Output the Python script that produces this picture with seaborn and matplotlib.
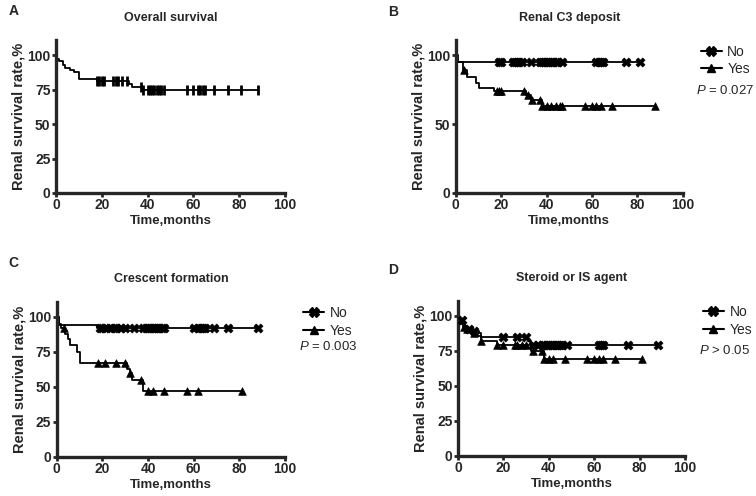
import numpy as np
import pandas as pd
import seaborn as sns
import matplotlib.pyplot as plt
from matplotlib.lines import Line2D

# Kaplan-Meier steps (time, survival %) and censor times
a_times = [0, 0.5, 1.5, 3, 4, 6, 8, 10, 18, 32, 33, 38]
a_surv = [100, 97.5, 96, 93, 91, 89, 88, 83, 81.5, 79, 77, 74.6]
a_cens = [18, 19, 20, 21, 25, 26, 27, 29, 31, 37, 38, 40, 41, 42, 43, 44, 45, 46, 47,
          57, 60, 62, 63, 64, 65, 69, 75, 81, 88]

b_no_times = [0, 1]
b_no_surv = [100, 95.5]
b_no_cens = [19, 20, 25, 26, 27, 28, 29, 33, 37, 38, 39, 40, 41, 42, 43, 44, 45, 47,
             62, 63, 64, 65, 75, 81]
b_yes_times = [0, 0.5, 3, 5, 9, 10, 17, 31, 33, 38]
b_yes_surv = [100, 95, 89, 84.5, 80, 76, 74, 71, 67.5, 63]
b_yes_cens = [3.5, 18, 19, 20, 30, 32, 33.5, 37, 38, 40, 42, 44, 46, 47, 57, 60, 62, 64, 69, 88]

c_no_times = [0, 1, 17.5]
c_no_surv = [100, 94.5, 91.8]
c_no_cens = [19, 20, 21, 24, 25, 26, 28, 30, 34, 38, 39, 40, 41, 42, 43, 44, 45, 46, 47,
             60, 62, 63, 64, 65, 69, 75, 88]
c_yes_times = [0, 1, 2, 3.5, 5, 6, 9, 10, 31, 32, 33, 38]
c_yes_surv = [100, 95, 92, 87.5, 84, 80, 75, 67, 63, 60, 55, 47]
c_yes_cens = [3, 18, 21, 26, 30, 32, 37, 40, 42, 47, 57, 62, 81]

d_no_times = [0, 0.5, 1, 2, 3, 4, 6, 9, 10, 31, 32]
d_no_surv = [100, 98, 97, 95, 93, 91, 89.5, 88, 84.7, 82, 79.5]
d_no_cens = [1.5, 5, 7, 20, 26, 30, 33, 35, 37, 38, 39, 40, 41, 42, 43, 44, 45, 46, 48,
             62, 63, 64, 75, 88]
d_yes_times = [0, 0.5, 1, 2, 3, 5, 6, 8, 10, 17, 32, 38]
d_yes_surv = [100, 96, 94, 92, 91, 89, 88, 86, 82, 79, 75, 69.4]
d_yes_cens = [2.5, 4, 7, 10, 17, 20, 25, 26, 28, 30, 33, 37, 38, 40, 42, 47, 57, 60, 62, 64,
              69, 81]

panels = [
    ('A', 'Overall survival', [(a_times, a_surv, a_cens, '|')], None, [0, 25, 50, 75, 100]),
    ('B', 'Renal C3 deposit', [(b_no_times, b_no_surv, b_no_cens, 'X'),
                               (b_yes_times, b_yes_surv, b_yes_cens, '^')], '= 0.027', [0, 50, 100]),
    ('C', 'Crescent formation', [(c_no_times, c_no_surv, c_no_cens, 'X'),
                                 (c_yes_times, c_yes_surv, c_yes_cens, '^')], '= 0.003', [0, 25, 50, 75, 100]),
    ('D', 'Steroid or IS agent', [(d_no_times, d_no_surv, d_no_cens, 'X'),
                                  (d_yes_times, d_yes_surv, d_yes_cens, '^')], '> 0.05', [0, 25, 50, 75, 100]),
]

# axes boxes in figure fractions
boxes = [(0.074, 0.611, 0.303, 0.308), (0.603, 0.611, 0.300, 0.308),
         (0.075, 0.079, 0.302, 0.313), (0.606, 0.081, 0.300, 0.313)]
letter_pos = [(0.011, 0.978), (0.513, 0.975), (0.011, 0.470), (0.513, 0.455)]
pval_y = {'B': 0.67, 'C': 0.71, 'D': 0.68}

sns.set_style('ticks')
plt.rcParams['font.family'] = ['Liberation Sans', 'DejaVu Sans']
plt.rcParams['mathtext.fontset'] = 'custom'
plt.rcParams['mathtext.it'] = 'Liberation Sans:italic'
plt.rcParams['mathtext.rm'] = 'Liberation Sans'

fig = plt.figure(figsize=(7.56, 4.96), dpi=100)

for (letter, title, curves, pval, yticks), box, lpos in zip(panels, boxes, letter_pos):
    ax = fig.add_axes(box)
    handles = []
    for times, surv, cens, mk in curves:
        t = list(times) + [max(cens)]
        s = list(surv) + [surv[-1]]
        df = pd.DataFrame({'time': t, 'surv': s})
        sns.lineplot(data=df, x='time', y='surv', drawstyle='steps-post', estimator=None,
                     sort=False, color='black', lw=1.3, ax=ax)
        idx = np.searchsorted(times, cens, side='right') - 1
        cdf = pd.DataFrame({'time': cens, 'surv': np.array(surv)[idx]})
        if mk == '|':
            ax.plot(cdf['time'], cdf['surv'], ls='none', marker='|', ms=7, mew=2, color='black')
        else:
            sns.scatterplot(data=cdf, x='time', y='surv', marker=mk,
                            s=42 if mk == 'X' else 30, color='black', edgecolor='black',
                            linewidth=0.5, ax=ax, zorder=3)
        handles.append(Line2D([0], [0], color='black', lw=1.5, marker=mk,
                              ms=7 if mk == 'X' else 6))
    ax.set_xlim(0, 100)
    ax.set_ylim(0, 111)
    ax.set_xticks([0, 20, 40, 60, 80, 100])
    ax.set_yticks(yticks)
    ax.tick_params(width=2, length=3, labelsize=10, pad=1)
    for lab in ax.get_xticklabels() + ax.get_yticklabels():
        lab.set_fontweight('bold')
    for sp in ['left', 'bottom']:
        ax.spines[sp].set_linewidth(2.4)
    sns.despine(ax=ax)
    ax.set_xlabel('Time,months', fontsize=9.5, fontweight='bold', labelpad=2)
    ax.set_ylabel('Renal survival rate,%', fontsize=10.5, fontweight='bold', labelpad=1)
    ax.set_title(title, fontsize=9, fontweight='bold', pad=14)
    fig.text(lpos[0], lpos[1], letter, fontsize=10, fontweight='bold', va='center')
    if pval is not None:
        ax.legend(handles, ['No', 'Yes'], loc='upper left', bbox_to_anchor=(1.08, 0.97),
                  frameon=False, fontsize=10, handlelength=1.5, handletextpad=0.4,
                  borderpad=0, borderaxespad=0, labelspacing=0.25)
        ax.text(1.06, pval_y[letter], '$P$ ' + pval, transform=ax.transAxes,
                fontsize=9.5, va='center')

fig.savefig('out.png', dpi=100)
